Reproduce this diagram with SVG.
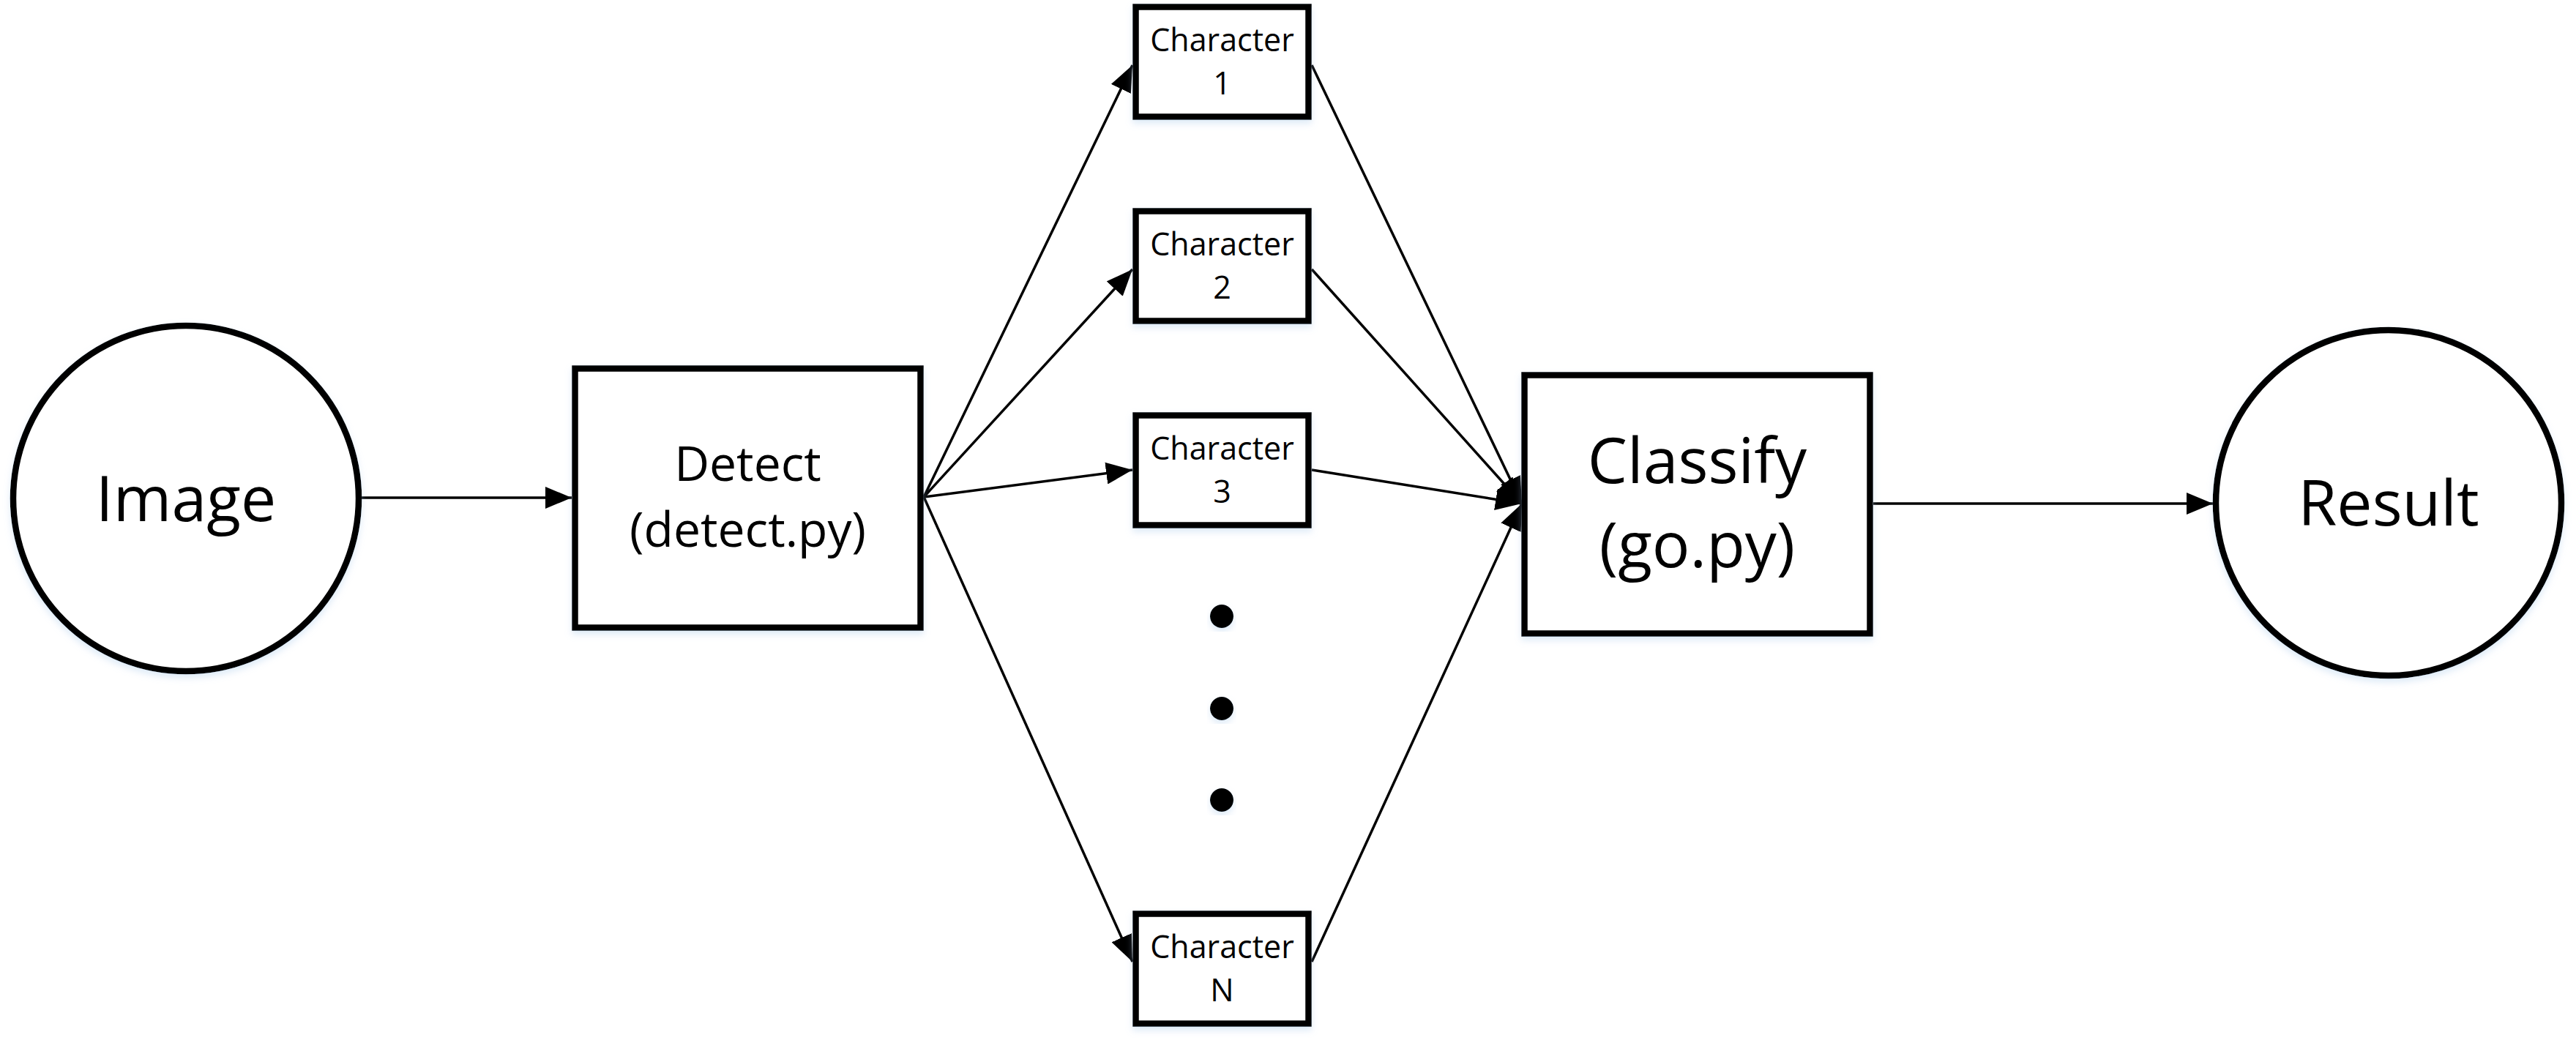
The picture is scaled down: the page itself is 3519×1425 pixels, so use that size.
<svg xmlns="http://www.w3.org/2000/svg" width="3519" height="1425" viewBox="0 0 3519 1425">
<style>
  .shape { fill: #ffffff; stroke: #000000; filter: url(#glow); }
  .thick { stroke-width: 8.5; }
  .lbl { font-family: "Open Sans", "Liberation Sans", sans-serif; fill: #000000; text-anchor: middle; }
  .big { font-size: 86px; }
  .mid { font-size: 66px; }
  .small { font-size: 43px; }
  .conn line { stroke: #000000; stroke-width: 3.5; fill: none; marker-end: url(#arrow); }
  .dot { fill: #000000; filter: url(#glow); }
</style>
<defs>
  <marker id="arrow" markerUnits="userSpaceOnUse" markerWidth="36" markerHeight="30" refX="36" refY="15" orient="auto">
    <path d="M0,0 L36,15 L0,30 z" fill="#000000"/>
  </marker>
  <filter id="glow" x="-10%" y="-10%" width="120%" height="125%">
    <feDropShadow dx="0" dy="5" stdDeviation="5" flood-color="#9fc3e8" flood-opacity="0.35"/>
  </filter>
</defs>
<rect width="3519" height="1425" fill="#ffffff"/>
<g id="connectors" class="conn">
  <line x1="494" y1="680" x2="781" y2="680"/>
  <line x1="1262" y1="679" x2="1547" y2="89"/>
  <line x1="1262" y1="679" x2="1547" y2="368"/>
  <line x1="1262" y1="679" x2="1547" y2="642"/>
  <line x1="1262" y1="679" x2="1547" y2="1314"/>
  <line x1="1792" y1="89" x2="2079" y2="688"/>
  <line x1="1792" y1="368" x2="2079" y2="688"/>
  <line x1="1792" y1="642" x2="2079" y2="688"/>
  <line x1="1792" y1="1314" x2="2079" y2="688"/>
  <line x1="2559" y1="688" x2="3023" y2="688"/>
</g>
<g id="image">
  <circle class="shape thick" cx="254" cy="681" r="236"/>
  <text class="lbl big" x="254" y="712">Image</text>
</g>
<g id="detect">
  <rect class="shape thick" x="785.5" y="503.5" width="472" height="354"/>
  <text class="lbl mid" x="1021.5" y="657">Detect</text>
  <text class="lbl mid" x="1021.5" y="747">(detect.py)</text>
</g>
<g id="char1">
  <rect class="shape thick" x="1551.5" y="9.5" width="236" height="150"/>
  <text class="lbl small" x="1669.5" y="70">Character</text>
  <text class="lbl small" x="1669.5" y="129">1</text>
</g>
<g id="char2">
  <rect class="shape thick" x="1551.5" y="288.5" width="236" height="150"/>
  <text class="lbl small" x="1669.5" y="349">Character</text>
  <text class="lbl small" x="1669.5" y="408">2</text>
</g>
<g id="char3">
  <rect class="shape thick" x="1551.5" y="567.5" width="236" height="150"/>
  <text class="lbl small" x="1669.5" y="628">Character</text>
  <text class="lbl small" x="1669.5" y="687">3</text>
</g>
<g id="ellipsis">
  <circle class="dot" cx="1669" cy="842" r="16"/>
  <circle class="dot" cx="1669" cy="968" r="16"/>
  <circle class="dot" cx="1669" cy="1093" r="16"/>
</g>
<g id="charN">
  <rect class="shape thick" x="1551.5" y="1248.5" width="236" height="150"/>
  <text class="lbl small" x="1669.5" y="1309">Character</text>
  <text class="lbl small" x="1669.5" y="1368">N</text>
</g>
<g id="classify">
  <rect class="shape thick" x="2082.5" y="512.5" width="472" height="353"/>
  <text class="lbl big" x="2318.5" y="660">Classify</text>
  <text class="lbl big" x="2318.5" y="775">(go.py)</text>
</g>
<g id="result">
  <circle class="shape thick" cx="3263" cy="687" r="236"/>
  <text class="lbl big" x="3263" y="718">Result</text>
</g>
</svg>
